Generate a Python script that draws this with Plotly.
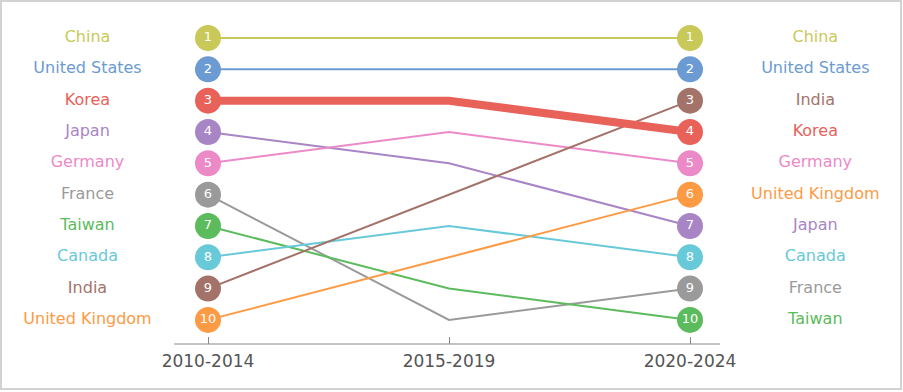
import plotly.graph_objects as go

periods = ["2010-2014", "2015-2019", "2020-2024"]
countries = ["China", "United States", "Korea", "Japan", "Germany",
             "France", "Taiwan", "Canada", "India", "United Kingdom"]
rank_2010_2014 = [1, 2, 3, 4, 5, 6, 7, 8, 9, 10]
rank_2015_2019 = [1, 2, 3, 5, 4, 10, 9, 7, 6, 8]
rank_2020_2024 = [1, 2, 4, 7, 5, 9, 10, 8, 3, 6]
colors = ["#c9c95a", "#6b9bd2", "#e8625a", "#a885c5", "#ec8ac8",
          "#9a9a9a", "#5cbb5c", "#68c9d8", "#a3736a", "#fd9a44"]
highlight = "Korea"

FONT = "DejaVu Sans, Verdana, sans-serif"
xs = [0, 1, 2]

fig = go.Figure()

order = [i for i, c in enumerate(countries) if c != highlight] + \
        [i for i, c in enumerate(countries) if c == highlight]

for i in order:
    ranks = [rank_2010_2014[i], rank_2015_2019[i], rank_2020_2024[i]]
    fig.add_trace(go.Scatter(
        x=xs, y=ranks, mode="lines",
        line=dict(color=colors[i], width=8 if countries[i] == highlight else 2),
        hoverinfo="skip", showlegend=False))

for i in range(len(countries)):
    ends_y = [rank_2010_2014[i], rank_2020_2024[i]]
    fig.add_trace(go.Scatter(
        x=[0, 2], y=ends_y, mode="markers+text",
        marker=dict(size=26, color=colors[i], line=dict(width=0)),
        text=[str(v) for v in ends_y], textposition="middle center",
        textfont=dict(color="white", size=13, family=FONT),
        cliponaxis=False, showlegend=False, hoverinfo="skip"))

# country labels on both sides
fig.add_trace(go.Scatter(
    x=[-0.5] * len(countries), y=rank_2010_2014, mode="text",
    text=countries, textposition="middle center",
    textfont=dict(color=colors, size=16, family=FONT),
    cliponaxis=False, showlegend=False, hoverinfo="skip"))
fig.add_trace(go.Scatter(
    x=[2.52] * len(countries), y=rank_2020_2024, mode="text",
    text=countries, textposition="middle center",
    textfont=dict(color=colors, size=16, family=FONT),
    cliponaxis=False, showlegend=False, hoverinfo="skip"))

W, H = 903, 392
T, B = 13, 48
ph = H - T - B

def px_y(p):
    return (H - B - p) / ph

# border frame (paper coords, full width)
fig.add_shape(type="rect", xref="paper", yref="paper",
              x0=1 / W, x1=901 / W, y0=px_y(389), y1=px_y(1),
              line=dict(color="#d2d2d2", width=2), fillcolor="rgba(0,0,0,0)",
              layer="below")
# baseline axis line
fig.add_shape(type="line", xref="x", yref="paper",
              x0=-0.14, x1=2.125, y0=0, y1=0,
              line=dict(color="#888", width=1), layer="below")

fig.update_layout(
    width=W, height=H,
    margin=dict(l=0, r=0, t=T, b=B),
    paper_bgcolor="white", plot_bgcolor="white",
    xaxis=dict(range=[-208 / 241, (W - 208) / 241], tickvals=xs, ticktext=periods,
               showgrid=False, zeroline=False, showline=False,
               ticks="inside", ticklen=7, tickcolor="#888",
               ticklabelstandoff=5,
               tickfont=dict(size=17, color="#555", family=FONT), fixedrange=True),
    yaxis=dict(range=[10.77, 0.2], visible=False, showgrid=False,
               zeroline=False, fixedrange=True),
    font=dict(family=FONT),
)

fig.write_html("out.html", config={"displayModeBar": False},
               post_script="document.body.style.margin='0';document.body.style.overflow='hidden';")
